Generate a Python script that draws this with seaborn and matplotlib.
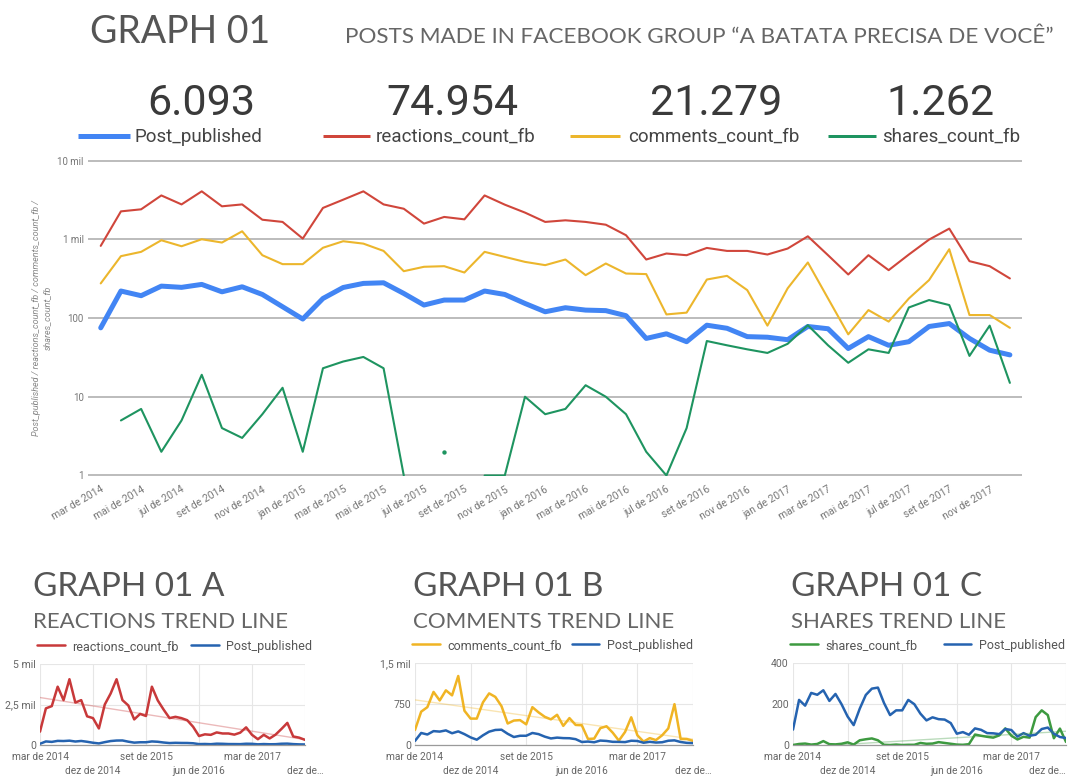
import numpy as np
import pandas as pd
import matplotlib.pyplot as plt
import seaborn as sns
from matplotlib.lines import Line2D
from matplotlib.ticker import NullLocator

# monthly values, mar 2014 .. dez 2017 (NaN = zero / no data on the log chart)
posts = [75, 220, 192, 254, 245, 267, 215, 249, 199, 139, 97, 177,
         244, 275, 280, 205, 146, 169, 169, 220, 199, 153, 120,
         135, 126, 124, 107, 55, 63, 50, 81, 74, 58, 57, 53,
         78, 73, 41, 58, 45, 50, 78, 85, 55, 39, 34]
reactions = [824, 2260, 2400, 3600, 2770, 4060, 2620, 2770, 1770, 1660, 1020, 2500,
             3180, 4060, 2770, 2440, 1580, 1920, 1790, 3600, 2750, 2180, 1660,
             1740, 1660, 1530, 1125, 553, 659, 627, 776, 711, 711, 640, 762,
             1090, 627, 357, 627, 405, 640, 990, 1365, 527, 455, 318]
comments = [275, 610, 692, 971, 815, 1000, 908, 1262, 627, 483, 483, 780,
            944, 880, 711, 393, 447, 455, 378, 692, 597, 516, 469,
            553, 350, 492, 367, 361, 111, 117, 308, 343, 226, 80, 238,
            507, 177, 62, 126, 90, 177, 303, 747, 109, 109, 75]
shares = [np.nan, 5, 7, 2, 5, 19, 4, 3, 6, 13, 2, 23,
          28, 32, 23, 1, np.nan, 2, np.nan, 1, 1, 10, 6,
          7, 14, 10, 6, 2, 1, 4, 51, 45, 40, 36, 47,
          81, 45, 27, 40, 36, 136, 169, 146, 33, 80, 15]

totals = ['6.093', '74.954', '21.279', '1.262']
series_names = ['Post_published', 'reactions_count_fb', 'comments_count_fb', 'shares_count_fb']

pt_months = ['jan', 'fev', 'mar', 'abr', 'mai', 'jun', 'jul', 'ago', 'set', 'out', 'nov', 'dez']
n = len(posts)
idx = np.arange(n)
month_labels = [f"{pt_months[(2 + i) % 12]} de {2014 + (2 + i) // 12}" for i in idx]

sns.set_theme(style='white')
plt.rcParams['font.family'] = ['Roboto', 'DejaVu Sans']

W, H = 1083, 781
fig = plt.figure(figsize=(W / 100, H / 100), dpi=100)


def box(left, top, right, bottom):
    return [left / W, 1 - bottom / H, (right - left) / W, (bottom - top) / H]


def draw_gapped(ax, vals, color, lw):
    d = pd.DataFrame({'idx': idx, 'v': vals})
    d['seg'] = d['v'].isna().cumsum()
    d = d.dropna()
    sns.lineplot(data=d, x='idx', y='v', units='seg', estimator=None,
                 color=color, lw=lw, ax=ax, sort=False)
    single = d.groupby('seg').filter(lambda g: len(g) == 1)
    if len(single):
        sns.scatterplot(data=single, x='idx', y='v', color=color, s=10,
                        linewidth=0, ax=ax)


# ---- header
fig.text(90 / W, 1 - 43 / H, 'GRAPH 01', fontsize=27, color='#555555',
         family='Lato', va='baseline')
fig.text(345 / W, 1 - 43 / H, 'POSTS MADE IN FACEBOOK GROUP \u201cA BATATA PRECISA DE VOC\u00ca\u201d',
         fontsize=16.2, color='#666666', family='Lato', va='baseline')

main_colors = ['#4285f4', '#d0463b', '#ecb62c', '#1e9460']
num_x = [201, 452, 716, 940]
for x, t in zip(num_x, totals):
    fig.text(x / W, 1 - 115 / H, t, fontsize=31, color='#3a3a3a',
             ha='center', va='baseline')

sw = [(78, 130, 5), (323, 370, 3), (570, 620, 3), (828, 876, 3)]
txt_x = [135, 376, 628, 882]
for (x0, x1, w), tx, c, name in zip(sw, txt_x, main_colors, series_names):
    fig.add_artist(Line2D([x0 / W, x1 / W], [1 - 136 / H] * 2, color=c,
                          lw=w * 0.72, solid_capstyle='butt'))
    fig.text(tx / W, 1 - 137 / H, name, fontsize=13.5, color='#444444',
             va='center')

# ---- main log chart
ax = fig.add_axes(box(88, 160, 1022, 476))
draw_gapped(ax, posts, main_colors[0], 3.6)
draw_gapped(ax, reactions, main_colors[1], 1.5)
draw_gapped(ax, comments, main_colors[2], 1.5)
draw_gapped(ax, shares, main_colors[3], 1.5)

ax.set_yscale('log')
ax.set_ylim(0.985, 10150)
ax.set_xlim(-0.63, 45.6)
ax.set_yticks([1, 10, 100, 1000, 10000])
ax.set_yticklabels(['1', '10', '100', '1 mil', '10 mil'])
ax.yaxis.set_minor_locator(NullLocator())
ax.set_xticks(idx[::2])
ax.set_xticklabels(month_labels[::2], rotation=30, ha='right',
                   rotation_mode='anchor')
ax.tick_params(axis='both', length=0, labelsize=7.5, labelcolor='#777777')
ax.tick_params(axis='x', pad=6)
ax.tick_params(axis='y', pad=3, labelsize=7)
ax.yaxis.grid(True, color='#b0b0b0', lw=1.2)
ax.xaxis.grid(False)
for s in ax.spines.values():
    s.set_visible(False)
ax.set_xlabel('')
ax.set_ylabel('')
fig.text(42 / W, 1 - 318 / H,
         'Post_published / reactions_count_fb / comments_count_fb /\nshares_count_fb',
         rotation=90, ha='center', va='center', fontsize=6.5, style='italic',
         color='#888888', linespacing=1.3)

# ---- small trend charts
small = [
    ('GRAPH 01 A', 'REACTIONS TREND LINE', reactions, 'reactions_count_fb', '#c8393a',
     (40, 664, 305, 745), 33, [0, 2500, 5000], ['0', '2,5 mil', '5 mil'], 1.0),
    ('GRAPH 01 B', 'COMMENTS TREND LINE', comments, 'comments_count_fb', '#f0b424',
     (415, 663, 693, 745), 413, [0, 750, 1500], ['0', '750', '1,5 mil'], 0.8),
    ('GRAPH 01 C', 'SHARES TREND LINE', shares, 'shares_count_fb', '#3d9a40',
     (793, 663, 1066, 745), 791, [0, 200, 400], ['0', '200', '400'], 2.1),
]
small_ticks = [0, 9, 18, 27, 36, 45]
small_labels = [month_labels[t] if t != 45 else 'dez de\u2026' for t in small_ticks]

for j, (title, sub, vals, name, col, bx, tx, yt, ytl, cs) in enumerate(small):
    fig.text(tx / W, 1 - 596 / H, title, fontsize=24, color='#555555',
             family='Lato', va='baseline')
    fig.text(tx / W, 1 - 628 / H, sub, fontsize=16, color='#666666',
             family='Lato', va='baseline')
    sax = fig.add_axes(box(*bx))
    v = pd.Series(vals).fillna(0).values
    sns.lineplot(x=idx, y=v, color=col, lw=1.8, ax=sax, label=name)
    sns.lineplot(x=idx, y=posts, color='#2563b0', lw=1.8, ax=sax, label='Post_published')
    sns.regplot(x=idx, y=v, scatter=False, ci=None, ax=sax,
                line_kws=dict(color=col, alpha=0.35, lw=1.0))
    sax.set_xlim(0, 45)
    sax.set_ylim(0, yt[-1])
    sax.set_yticks(yt)
    sax.set_yticklabels(ytl)
    sax.set_xticks(small_ticks)
    sax.set_xticklabels(small_labels)
    sax.tick_params(axis='y', length=0, labelsize=7.6, labelcolor='#666666', pad=3)
    sax.tick_params(axis='x', length=0, labelsize=7.3, labelcolor='#666666')
    # alternate the date labels on two rows
    for k, tk in enumerate(sax.xaxis.get_major_ticks()):
        tk.set_pad(5 if k % 2 == 0 else 15)
    if j == 2:
        # last label sits at the picture edge
        sax.get_xticklabels()[-1].set_horizontalalignment('right')
    sax.grid(True, color='#e6e6e6', lw=0.8)
    for s in ['top', 'right', 'left']:
        sax.spines[s].set_visible(False)
    sax.spines['bottom'].set_color('#9a9a9a')
    sax.spines['bottom'].set_linewidth(0.9)
    sax.set_xlabel('')
    sax.set_ylabel('')
    h = sax.get_legend_handles_labels()
    sax.legend(h[0][:2], h[1][:2], ncol=2, loc='lower left',
               bbox_to_anchor=(-0.01, 1.14), frameon=False, fontsize=9,
               handlelength=2.2, handletextpad=0.6, columnspacing=cs,
               borderaxespad=0, borderpad=0, labelcolor='#555555')

fig.savefig('out.png', dpi=100, facecolor='white')
